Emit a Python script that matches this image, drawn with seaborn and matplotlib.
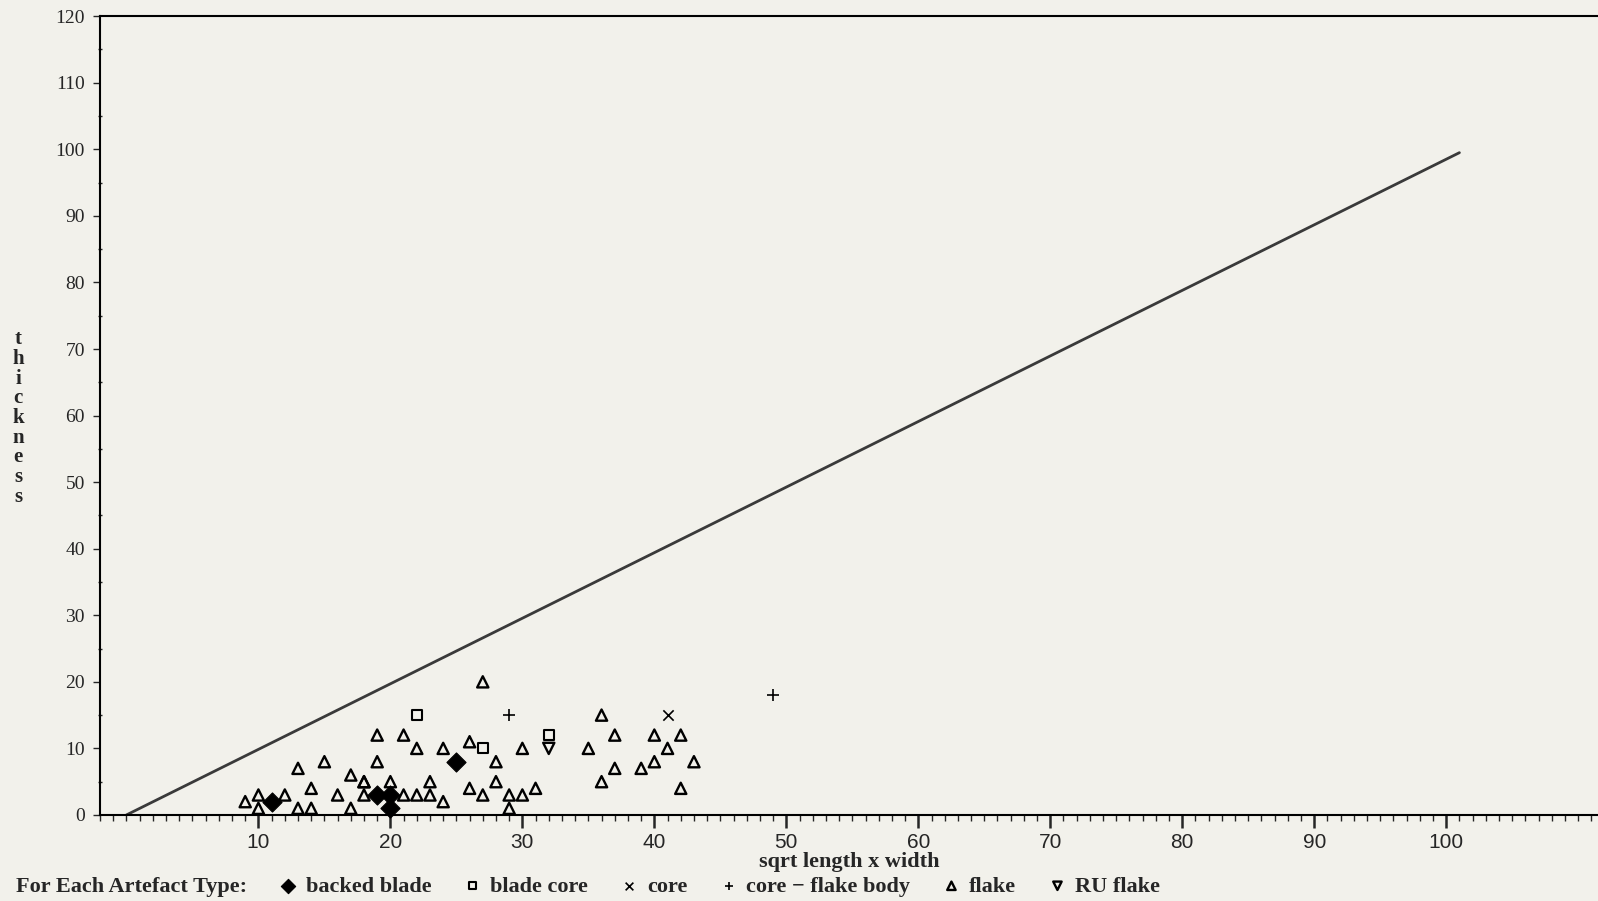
import matplotlib
matplotlib.use("Agg")
import matplotlib.pyplot as plt
from matplotlib.lines import Line2D
from matplotlib.ticker import MultipleLocator
import seaborn as sns

flake_x = [9, 10, 10, 12, 13, 13, 14, 14, 15, 16, 17, 17, 18, 18, 18, 19, 19, 20, 21, 21,
           22, 22, 23, 23, 24, 24, 26, 26, 27, 27, 28, 28, 29, 29, 30, 30, 31, 35, 36, 36,
           37, 37, 39, 40, 40, 41, 42, 42, 43]
flake_y = [2, 3, 1, 3, 7, 1, 4, 1, 8, 3, 6, 1, 5, 3, 5, 12, 8, 5, 12, 3,
           10, 3, 5, 3, 2, 10, 11, 4, 20, 3, 8, 5, 3, 1, 10, 3, 4, 10, 15, 5,
           12, 7, 7, 12, 8, 10, 12, 4, 8]
backed_x = [11, 19, 20, 20, 25]
backed_y = [2, 3, 3, 1, 8]
blade_core_x = [22, 27, 32]
blade_core_y = [15, 10, 12]
core_x = [41]
core_y = [15]
cfb_x = [29, 49]
cfb_y = [15, 18]
ru_x = [32]
ru_y = [10]
ref_x = [0, 101]
ref_y = [0, 99.5]

bg = "#f2f1eb"
sns.set_style("ticks")
plt.rcParams["font.family"] = ["Liberation Serif", "DejaVu Serif"]

fig = plt.figure(figsize=(15.98, 9.01), dpi=100, facecolor=bg)
ax = fig.add_axes([0.0626, 0.0955, 0.9374, 0.8865])
ax.set_facecolor(bg)

sns.lineplot(x=ref_x, y=ref_y, color="#3a3a3a", linewidth=2, ax=ax)

common = dict(ax=ax, clip_on=False, zorder=3)
sns.scatterplot(x=backed_x, y=backed_y, marker="D", s=95, color="black",
                edgecolor="black", label="backed blade", **common)
sns.scatterplot(x=blade_core_x, y=blade_core_y, marker="s", s=50, facecolor="none",
                edgecolor="black", linewidth=1.5, label="blade core", **common)
sns.scatterplot(x=core_x, y=core_y, marker="x", s=55, color="black",
                linewidth=1.2, label="core", **common)
sns.scatterplot(x=cfb_x, y=cfb_y, marker="+", s=65, color="black",
                linewidth=1.2, label="core \u2212 flake body", **common)
sns.scatterplot(x=flake_x, y=flake_y, marker="^", s=65, facecolor="none",
                edgecolor="black", linewidth=1.7, label="flake", **common)
sns.scatterplot(x=ru_x, y=ru_y, marker="v", s=65, facecolor="none",
                edgecolor="black", linewidth=1.7, label="RU flake", **common)

ax.set_xlim(-2, 111.5)
ax.set_ylim(0, 120)
ax.xaxis.set_minor_locator(MultipleLocator(1))
ax.yaxis.set_major_locator(MultipleLocator(10))
ax.yaxis.set_minor_locator(MultipleLocator(5))
ax.set_xticks(range(10, 101, 10))
ax.tick_params(axis="x", which="major", length=9, width=1.8, labelsize=15, pad=4)
ax.tick_params(axis="x", which="minor", length=4, width=1)
ax.tick_params(axis="y", which="major", length=5, width=1, labelsize=14, pad=6)
ax.tick_params(axis="y", which="minor", length=3, width=1, direction="inout")
for lab in ax.get_xticklabels():
    lab.set_family(["Liberation Sans", "DejaVu Sans"])

for side in ["left", "bottom", "top"]:
    ax.spines[side].set_linewidth(1.5)
    ax.spines[side].set_color("black")
ax.spines["right"].set_visible(False)

ax.set_xlabel("sqrt length x width", fontsize=16, fontweight="bold", labelpad=0)
ax.set_ylabel("t\nh\ni\nc\nk\nn\ne\ns\ns", rotation=0, fontsize=15,
              fontweight="bold", linespacing=0.98, va="center", ha="center")
ax.yaxis.set_label_coords(-0.0547, 0.497)

handles, labels = ax.get_legend_handles_labels()
if ax.get_legend():
    ax.get_legend().remove()
blank = Line2D([], [], linestyle="none", marker="")
fig.legend([blank] + handles, ["For Each Artefact Type:"] + labels,
           loc="lower left", bbox_to_anchor=(-0.011, -0.005), ncol=7, frameon=False,
           borderpad=0.2, borderaxespad=0.2,
           handlelength=0.6, handletextpad=0.5, columnspacing=1.55,
           prop={"size": 16, "weight": "bold"}, markerscale=0.75)

fig.savefig("out.png", dpi=100, facecolor=bg)
